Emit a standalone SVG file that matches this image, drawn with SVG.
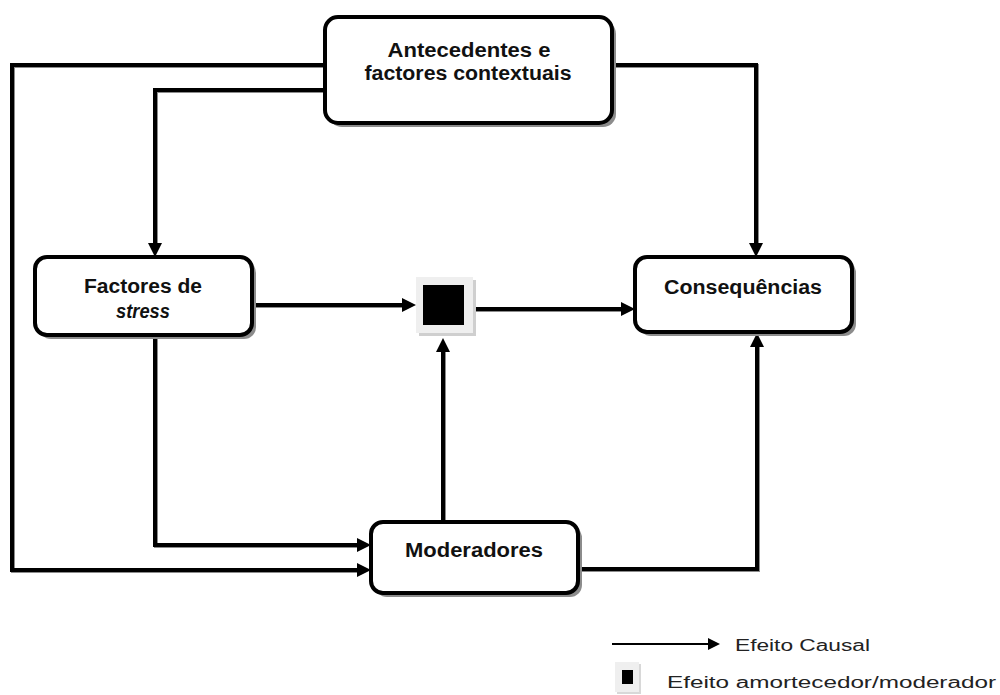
<svg xmlns="http://www.w3.org/2000/svg" width="1000" height="695" viewBox="0 0 1000 695">
<style>
.box{fill:#fff;stroke:#000;stroke-width:4}
.sh{fill:#8c8c8c}
.lbl{font-family:"Liberation Sans",Arial,sans-serif;font-weight:bold;font-size:20px;fill:#111;text-anchor:middle}
.conn path{fill:none;stroke:#000;stroke-width:4;stroke-linejoin:miter}
.connsh path{fill:none;stroke:#8c8c8c;stroke-width:4}
.leg{font-family:"Liberation Sans",Arial,sans-serif;font-size:16px;fill:#222}
</style>
<defs>
<marker id="ah" markerUnits="userSpaceOnUse" markerWidth="14" markerHeight="14" viewBox="0 0 14 14" refX="6" refY="7" orient="auto">
<path d="M0,0 L14,7 L0,14 z" fill="#000"/>
</marker>
<marker id="ahs" markerUnits="userSpaceOnUse" markerWidth="12" markerHeight="12" viewBox="0 0 12 12" refX="4" refY="6" orient="auto">
<path d="M0,0 L12,6 L0,12 z" fill="#000"/>
</marker>
</defs>
<rect width="1000" height="695" fill="#fff"/>

<g id="connectors-shadow" class="connsh" transform="translate(1,1)">
<path d="M325,65 H12 V570 H363"/>
<path d="M325,90 H155 V249"/>
<path d="M612,65 H756 V249"/>
<path d="M155,335 V545 H363"/>
<path d="M252,305 H408"/>
<path d="M473,309 H627"/>
<path d="M443,522 V346"/>
<path d="M580,569 H757 V341"/>
</g>
<g id="connectors" class="conn">
<path d="M325,65 H12 V570 H363" marker-end="url(#ah)"/>
<path d="M325,90 H155 V249" marker-end="url(#ah)"/>
<path d="M612,65 H756 V249" marker-end="url(#ah)"/>
<path d="M155,335 V545 H363" marker-end="url(#ah)"/>
<path d="M252,305 H408" marker-end="url(#ah)"/>
<path d="M473,309 H627" marker-end="url(#ah)"/>
<path d="M443,522 V346" marker-end="url(#ah)"/>
<path d="M580,569 H757 V341" marker-end="url(#ah)"/>
</g>

<g id="antecedentes">
<rect class="sh" x="329" y="21" width="287" height="106" rx="13"/>
<rect class="box" x="325" y="17" width="287" height="106" rx="13"/>
<text class="lbl" x="469" y="57" textLength="163" lengthAdjust="spacingAndGlyphs">Antecedentes e</text>
<text class="lbl" x="468" y="80" textLength="207" lengthAdjust="spacingAndGlyphs">factores contextuais</text>
</g>

<g id="factores">
<rect class="sh" x="39" y="261" width="217" height="78" rx="12"/>
<rect class="box" x="35" y="257" width="217" height="78" rx="12"/>
<text class="lbl" x="143" y="293" textLength="118" lengthAdjust="spacingAndGlyphs">Factores de</text>
<text class="lbl" x="143" y="318" font-style="italic" textLength="54" lengthAdjust="spacingAndGlyphs">stress</text>
</g>

<g id="moderador-efeito">
<rect x="419" y="280" width="57" height="56" fill="#cfcfcf"/>
<rect x="416" y="277" width="57" height="56" fill="#efefef"/>
<rect x="423" y="285" width="41" height="40" fill="#000"/>
</g>

<g id="consequencias">
<rect class="sh" x="639" y="261" width="217" height="75" rx="12"/>
<rect class="box" x="635" y="257" width="217" height="75" rx="12"/>
<text class="lbl" x="743" y="294" textLength="158" lengthAdjust="spacingAndGlyphs">Consequências</text>
</g>

<g id="moderadores">
<rect class="sh" x="375" y="526" width="207" height="71" rx="12"/>
<rect class="box" x="371" y="522" width="207" height="71" rx="12"/>
<text class="lbl" x="474" y="557" textLength="138" lengthAdjust="spacingAndGlyphs">Moderadores</text>
</g>

<g id="legend">
<path d="M612,644 H712" stroke="#000" stroke-width="2" fill="none" marker-end="url(#ahs)"/>
<text class="leg" x="735" y="651" textLength="135" lengthAdjust="spacingAndGlyphs">Efeito Causal</text>
<rect x="617" y="664" width="24" height="30" fill="#d8d8d8"/>
<rect x="615" y="662" width="24" height="30" fill="#efefef"/>
<rect x="622" y="670" width="11" height="14" fill="#000"/>
<text class="leg" x="667" y="688" textLength="329" lengthAdjust="spacingAndGlyphs">Efeito amortecedor/moderador</text>
</g>
</svg>
